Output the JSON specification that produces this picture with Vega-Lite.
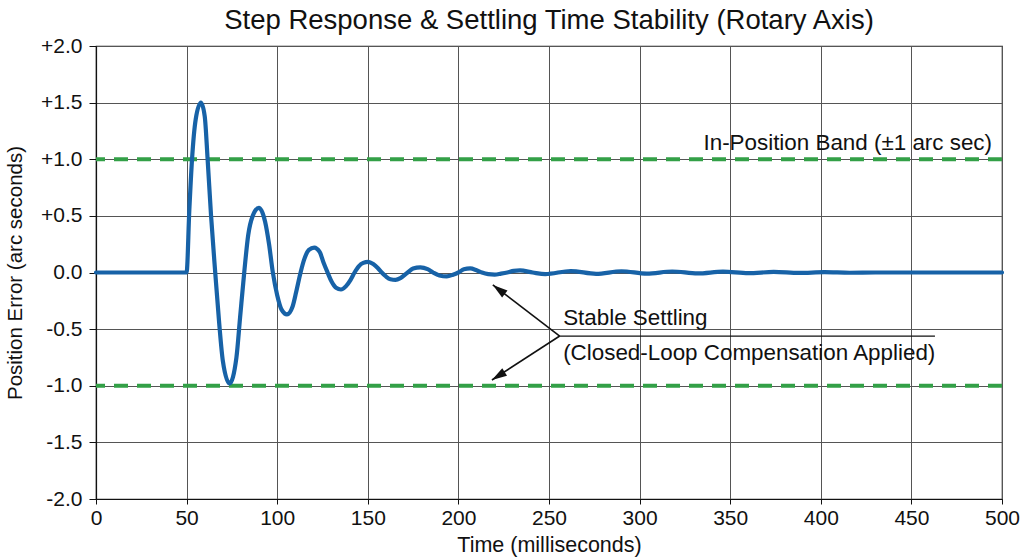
{
  "$schema": "https://vega.github.io/schema/vega-lite/v6.json",
  "width": 906,
  "height": 453,
  "autosize": "none",
  "padding": {"left": 96, "top": 46, "right": 22, "bottom": 60},
  "background": "white",
  "config": {
    "font": "Liberation Sans",
    "view": {"stroke": "#222", "strokeWidth": 1.2},
    "axis": {
      "labelFont": "Liberation Sans",
      "labelFontSize": 21,
      "labelColor": "#111",
      "labelFlush": false,
      "titleFont": "Liberation Sans",
      "titleFontWeight": "normal",
      "titleColor": "#111",
      "domainColor": "#111",
      "domainWidth": 1.2,
      "tickColor": "#111",
      "gridColor": "#555",
      "gridWidth": 1
    }
  },
  "title": {
    "text": "Step Response & Settling Time Stability (Rotary Axis)",
    "font": "Liberation Sans",
    "fontSize": 27.5,
    "fontWeight": "normal",
    "color": "#111",
    "anchor": "middle",
    "offset": 1
  },
  "datasets": {
    "response": [
      {"t": 0, "err": 0},
      {"t": 50, "err": 0},
      {"t": 51.5, "err": 0.55},
      {"t": 53, "err": 1.0},
      {"t": 55, "err": 1.35},
      {"t": 57.9, "err": 1.5},
      {"t": 60, "err": 1.38},
      {"t": 61.6, "err": 1.0},
      {"t": 63.5, "err": 0.5},
      {"t": 65.8, "err": 0},
      {"t": 68, "err": -0.45},
      {"t": 70, "err": -0.78},
      {"t": 73.7, "err": -0.98},
      {"t": 77.5, "err": -0.75},
      {"t": 79.5, "err": -0.4},
      {"t": 81.8, "err": 0},
      {"t": 84, "err": 0.33},
      {"t": 86.5, "err": 0.5},
      {"t": 89.9, "err": 0.57},
      {"t": 93.3, "err": 0.45},
      {"t": 95.5, "err": 0.25},
      {"t": 97.6, "err": 0},
      {"t": 100, "err": -0.2},
      {"t": 102.5, "err": -0.33},
      {"t": 105.4, "err": -0.37},
      {"t": 108.5, "err": -0.3},
      {"t": 110.5, "err": -0.17},
      {"t": 112.9, "err": 0},
      {"t": 115, "err": 0.12},
      {"t": 117.5, "err": 0.2},
      {"t": 120.4, "err": 0.22},
      {"t": 123.5, "err": 0.18},
      {"t": 125.5, "err": 0.09},
      {"t": 127.8, "err": 0},
      {"t": 130, "err": -0.08},
      {"t": 132.5, "err": -0.135},
      {"t": 135.2, "err": -0.15},
      {"t": 138, "err": -0.12},
      {"t": 140.5, "err": -0.065},
      {"t": 142.7, "err": 0},
      {"t": 145, "err": 0.055},
      {"t": 147.5, "err": 0.085},
      {"t": 150.2, "err": 0.094},
      {"t": 153, "err": 0.075},
      {"t": 155.5, "err": 0.04},
      {"t": 157.7, "err": 0},
      {"t": 160, "err": -0.035},
      {"t": 162.5, "err": -0.06},
      {"t": 165.3, "err": -0.065},
      {"t": 168, "err": -0.05},
      {"t": 172, "err": 0},
      {"t": 175, "err": 0.035},
      {"t": 179, "err": 0.046},
      {"t": 183, "err": 0.03},
      {"t": 186, "err": 0},
      {"t": 189.5, "err": -0.026},
      {"t": 193.6, "err": -0.034},
      {"t": 197, "err": -0.02},
      {"t": 200, "err": 0},
      {"t": 203, "err": 0.028},
      {"t": 206.5, "err": 0.036},
      {"t": 210, "err": 0.02},
      {"t": 213, "err": 0},
      {"t": 216.5, "err": -0.014},
      {"t": 220, "err": -0.018},
      {"t": 223.5, "err": -0.01},
      {"t": 227, "err": 0},
      {"t": 230.5, "err": 0.014},
      {"t": 234, "err": 0.018},
      {"t": 241, "err": 0},
      {"t": 248, "err": -0.014},
      {"t": 262, "err": 0.013},
      {"t": 276, "err": -0.012},
      {"t": 290, "err": 0.011},
      {"t": 304, "err": -0.01},
      {"t": 318, "err": 0.009},
      {"t": 332, "err": -0.008},
      {"t": 346, "err": 0.007},
      {"t": 360, "err": -0.006},
      {"t": 374, "err": 0.005},
      {"t": 388, "err": -0.004},
      {"t": 402, "err": 0.003},
      {"t": 416, "err": -0.002},
      {"t": 430, "err": 0},
      {"t": 500, "err": 0}
    ],
    "band": [
      {"limit": 1.0},
      {"limit": -1.0}
    ],
    "arrowUp": [
      {"t": 255.9, "err": -0.561, "tipT": 219.0, "tipErr": -0.11}
    ],
    "arrowDown": [
      {"t": 255.9, "err": -0.561, "tipT": 218.5, "tipErr": -0.949}
    ],
    "underline": [
      {"t": 255.9, "t2": 463, "err": -0.561}
    ],
    "notes": [
      {"t": 494.5, "err": 1.082, "label": "In-Position Band (±1 arc sec)", "side": "right"},
      {"t": 257.8, "err": -0.464, "label": "Stable Settling", "side": "left"},
      {"t": 257.8, "err": -0.773, "label": "(Closed-Loop Compensation Applied)", "side": "left"}
    ]
  },
  "layer": [
    {
      "data": {"name": "band"},
      "mark": {"type": "rule", "color": "#33a047", "strokeWidth": 4, "strokeDash": [14, 9]},
      "encoding": {
        "y": {
          "field": "limit",
          "type": "quantitative",
          "scale": {"domain": [-2, 2], "nice": false},
          "axis": {
            "title": "Position Error (arc seconds)",
            "titleFontSize": 20.5,
            "values": [-2, -1.5, -1, -0.5, 0, 0.5, 1, 1.5, 2],
            "labelExpr": "datum.value > 0 ? '+' + format(datum.value, '.1f') : (datum.value < 0 ? '-' + format(-datum.value, '.1f') : '0.0')",
            "tickSize": 7,
            "labelPadding": 7,
            "titlePadding": 15,
            "grid": true
          }
        }
      }
    },
    {
      "data": {"name": "response"},
      "mark": {"type": "line", "color": "#1762a7", "strokeWidth": 4.2, "interpolate": "monotone", "strokeCap": "round", "strokeJoin": "round"},
      "encoding": {
        "x": {
          "field": "t",
          "type": "quantitative",
          "scale": {"domain": [0, 500], "nice": false},
          "axis": {
            "title": "Time (milliseconds)",
            "titleFontSize": 21.5,
            "values": [0, 50, 100, 150, 200, 250, 300, 350, 400, 450, 500],
            "tickSize": 5,
            "labelPadding": 3,
            "titlePadding": 6,
            "grid": true
          }
        },
        "y": {"field": "err", "type": "quantitative"}
      }
    },
    {
      "data": {"name": "underline"},
      "mark": {"type": "rule", "color": "#111", "strokeWidth": 1.3},
      "encoding": {
        "x": {"field": "t", "type": "quantitative"},
        "x2": {"field": "t2"},
        "y": {"field": "err", "type": "quantitative"}
      }
    },
    {
      "data": {"name": "arrowUp"},
      "mark": {"type": "rule", "color": "#111", "strokeWidth": 1.6},
      "encoding": {
        "x": {"field": "t", "type": "quantitative"},
        "y": {"field": "err", "type": "quantitative"},
        "x2": {"field": "tipT"},
        "y2": {"field": "tipErr"}
      }
    },
    {
      "data": {"name": "arrowDown"},
      "mark": {"type": "rule", "color": "#111", "strokeWidth": 1.6},
      "encoding": {
        "x": {"field": "t", "type": "quantitative"},
        "y": {"field": "err", "type": "quantitative"},
        "x2": {"field": "tipT"},
        "y2": {"field": "tipErr"}
      }
    },
    {
      "data": {"name": "arrowUp"},
      "mark": {"type": "point", "shape": "M0,0L-0.6,2L0.6,2Z", "filled": true, "color": "#111", "opacity": 1, "size": 225, "angle": 307},
      "encoding": {
        "x": {"field": "tipT", "type": "quantitative"},
        "y": {"field": "tipErr", "type": "quantitative"}
      }
    },
    {
      "data": {"name": "arrowDown"},
      "mark": {"type": "point", "shape": "M0,0L-0.6,2L0.6,2Z", "filled": true, "color": "#111", "opacity": 1, "size": 225, "angle": 238},
      "encoding": {
        "x": {"field": "tipT", "type": "quantitative"},
        "y": {"field": "tipErr", "type": "quantitative"}
      }
    },
    {
      "data": {"name": "notes"},
      "transform": [{"filter": "datum.side === 'right'"}],
      "mark": {"type": "text", "align": "right", "baseline": "alphabetic", "fontSize": 22.4, "font": "Liberation Sans", "color": "#111"},
      "encoding": {
        "x": {"field": "t", "type": "quantitative"},
        "y": {"field": "err", "type": "quantitative"},
        "text": {"field": "label"}
      }
    },
    {
      "data": {"name": "notes"},
      "transform": [{"filter": "datum.side === 'left'"}],
      "mark": {"type": "text", "align": "left", "baseline": "alphabetic", "fontSize": 22.4, "font": "Liberation Sans", "color": "#111"},
      "encoding": {
        "x": {"field": "t", "type": "quantitative"},
        "y": {"field": "err", "type": "quantitative"},
        "text": {"field": "label"}
      }
    }
  ]
}
